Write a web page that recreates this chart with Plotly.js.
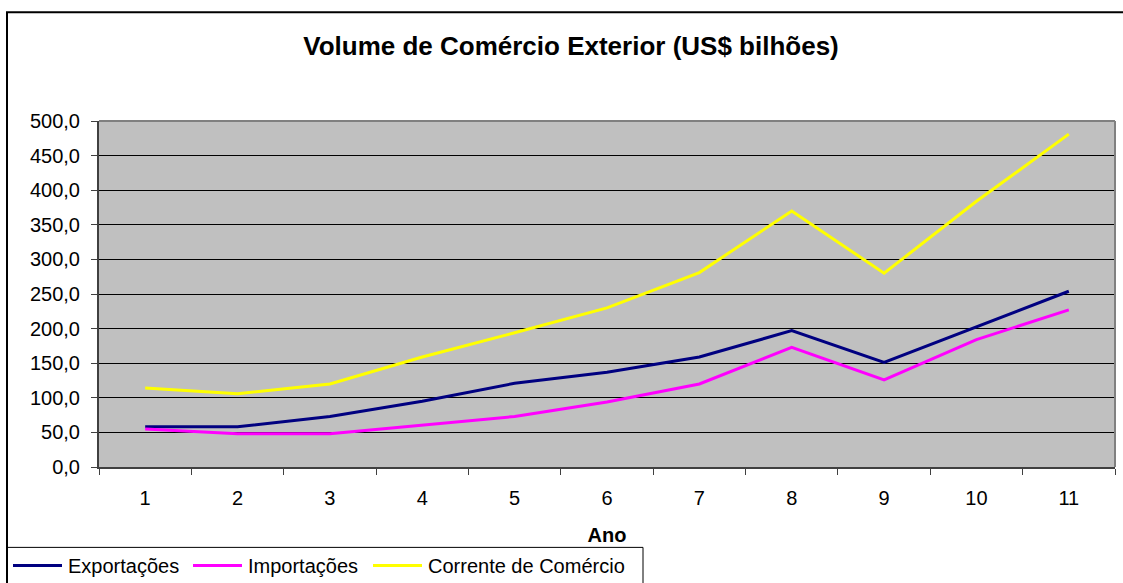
<!DOCTYPE html>
<html>
<head>
<meta charset="utf-8">
<script src="https://cdn.plot.ly/plotly-3.0.1.min.js"></script>
<style>
html,body{margin:0;padding:0;background:#fff;}
#chart{width:1123px;height:583px;}
</style>
</head>
<body>
<div id="chart"></div>
<script>
const anos = ['1','2','3','4','5','6','7','8','9','10','11'];
const exportacoes = [58, 58, 73, 95, 121, 137, 159, 197, 151, 203, 254];
const importacoes = [55, 48, 48, 61, 73, 94, 120, 173, 126, 184, 227];
const corrente = [114, 106, 120, 159, 194, 230, 281, 370, 280, 384, 481];
const yTicks = [0, 50, 100, 150, 200, 250, 300, 350, 400, 450, 500];

const font = 'Liberation Sans, Arial, sans-serif';

const traces = [
  {x: anos, y: exportacoes, name: 'Exportações', type: 'scatter', mode: 'lines',
   line: {color: '#000080', width: 3}},
  {x: anos, y: importacoes, name: 'Importações', type: 'scatter', mode: 'lines',
   line: {color: '#FF00FF', width: 3}},
  {x: anos, y: corrente, name: 'Corrente de Comércio', type: 'scatter', mode: 'lines',
   line: {color: '#FFFF00', width: 3}}
];

// plot area in pixels: x 99..1115, y 121..467.5
const PX = (px) => (px - 99) / 1016;
const PY = (py) => (467.5 - py) / 346.5;

const layout = {
  width: 1123, height: 583,
  margin: {l: 99, r: 8, t: 121, b: 115.5, pad: 0},
  paper_bgcolor: '#ffffff',
  plot_bgcolor: '#C0C0C0',
  separators: ',.',
  font: {family: font, size: 20, color: '#000'},
  title: {
    text: '<b>Volume de Comércio Exterior (US$ bilhões)</b>',
    font: {family: font, size: 26, color: '#000'},
    x: 571 / 1123, xanchor: 'center', xref: 'container',
    y: 1 - 46/583, yanchor: 'middle', yref: 'container'
  },
  xaxis: {
    type: 'category',
    categoryorder: 'array', categoryarray: anos,
    range: [-0.5, 10.5],
    tickson: 'boundaries',
    ticks: 'outside', ticklen: 6, tickcolor: '#404040', tickwidth: 1,
    showgrid: false, zeroline: false,
    showline: true, linecolor: '#404040', linewidth: 2,
    tickfont: {family: font, size: 20, color: '#000'},
    ticklabelstandoff: 12,
    title: {text: '<b>Ano</b>', font: {family: font, size: 20, color: '#000'}, standoff: 24},
    automargin: false,
    fixedrange: true
  },
  yaxis: {
    range: [0, 500],
    tickvals: yTicks,
    tickformat: '.1f',
    ticks: 'outside', ticklen: 6, tickcolor: '#404040', tickwidth: 1,
    showgrid: true, gridcolor: '#000000', gridwidth: 1,
    zeroline: false,
    showline: true, linecolor: '#404040', linewidth: 2,
    tickfont: {family: font, size: 20, color: '#000'},
    ticklabelstandoff: 7,
    automargin: false,
    fixedrange: true
  },
  showlegend: true,
  legend: {
    orientation: 'h',
    x: 28 / 1123, xanchor: 'left', xref: 'container',
    y: 1 - 546 / 583, yanchor: 'top', yref: 'container',
    bgcolor: 'rgba(0,0,0,0)',
    borderwidth: 0,
    font: {family: font, size: 20, color: '#000'},
    entrywidth: 135, entrywidthmode: 'pixels',
    itemwidth: 30,
    tracegroupgap: 0
  },
  shapes: [
    {type: 'line', xref: 'paper', yref: 'paper', x0: 0, x1: 1, y0: 1, y1: 1,
     line: {color: '#808080', width: 2}},
    {type: 'line', xref: 'paper', yref: 'paper', x0: 1, x1: 1, y0: 0, y1: 1,
     line: {color: '#808080', width: 2}},
    // outer chart border
    {type: 'rect', xref: 'paper', yref: 'paper',
     x0: PX(7), x1: PX(1140), y0: PY(600), y1: PY(12),
     line: {color: '#000000', width: 2}, fillcolor: 'rgba(0,0,0,0)', layer: 'above'},
    // legend box
    {type: 'rect', xref: 'paper', yref: 'paper',
     x0: PX(7), x1: PX(643), y0: PY(600), y1: PY(548),
     line: {color: '#000000', width: 1}, fillcolor: 'rgba(0,0,0,0)', layer: 'above'}
  ]
};

Plotly.newPlot('chart', traces, layout, {displayModeBar: false, staticPlot: true}).then(function (gd) {
  // let the last legend entry extend past the computed legend width
  gd.querySelectorAll('.legend [clip-path]').forEach(function (el) { el.removeAttribute('clip-path'); });
  // longer legend line samples, like the reference
  gd.querySelectorAll('.legend .legendlines path').forEach(function (p) { p.setAttribute('d', 'M-15,0h49'); });
});
</script>
</body>
</html>
